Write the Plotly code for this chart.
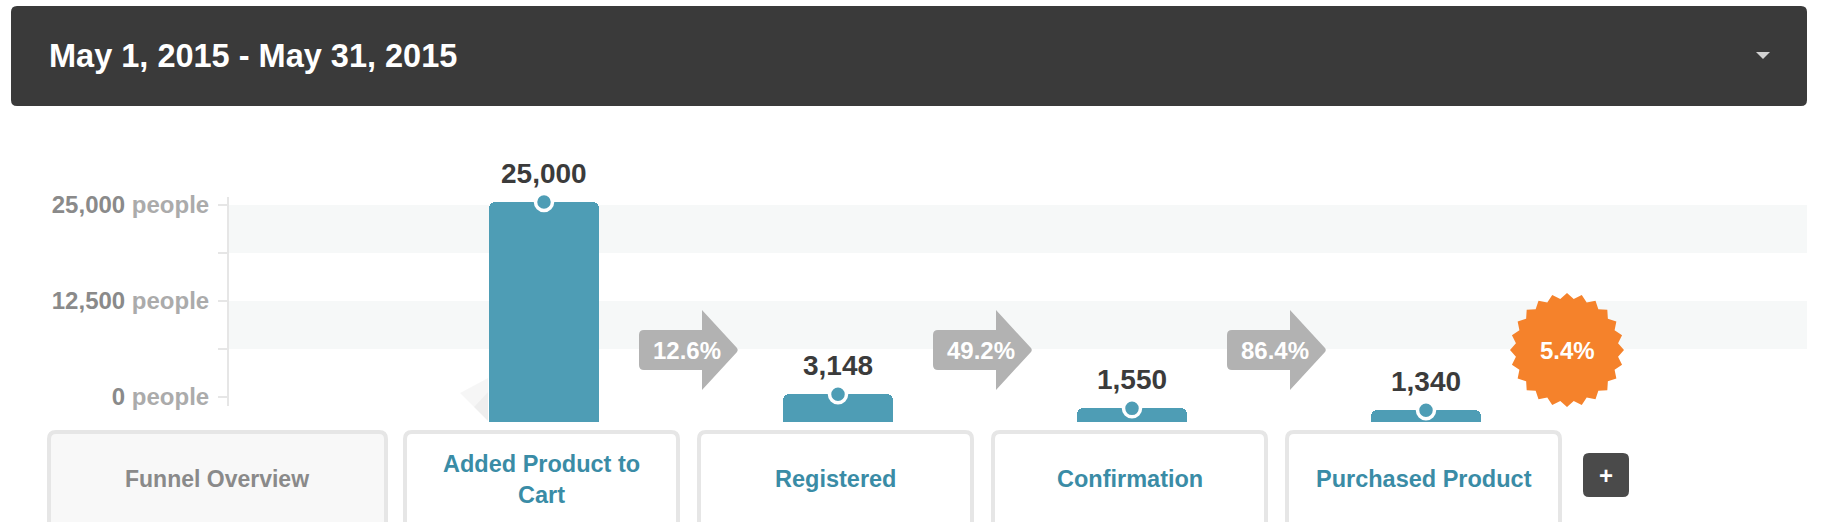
import math
import plotly.graph_objects as go

# ---------------- data ----------------
steps = ["Added Product to Cart", "Registered", "Confirmation", "Purchased Product"]
step_labels = ["Added Product to<br>Cart", "Registered", "Confirmation", "Purchased Product"]
people = [25000, 3148, 1550, 1340]
step_rates = [12.6, 49.2, 86.4]          # conversion between consecutive steps (%)
overall_rate = 5.4                        # overall funnel conversion (%)
axis_ticks = [0, 6250, 12500, 18750, 25000]
axis_tick_numbers = ["0", "", "12,500", "", "25,000"]
band_ranges = [(18750, 25000), (6250, 12500)]
title_text = "May 1, 2015 - May 31, 2015"
overview_label = "Funnel Overview"

# ---------------- style ----------------
W, H = 1832, 522
FONT = "Liberation Sans, Arial, Helvetica, sans-serif"
BAR = "#4e9db5"
TEAL_TXT = "#3a8ca6"
DARK = "#3a3a3a"
ARROW = "#b2b2b2"
ORANGE = "#f5822b"


def pxx(x):
    return x / W


def pyy(y):
    return 1 - y / H


def rrect(x0, y0, x1, y1, r, fx, fy):
    return (
        f"M {fx(x0 + r)},{fy(y0)} L {fx(x1 - r)},{fy(y0)} "
        f"Q {fx(x1)},{fy(y0)} {fx(x1)},{fy(y0 + r)} "
        f"L {fx(x1)},{fy(y1 - r)} Q {fx(x1)},{fy(y1)} {fx(x1 - r)},{fy(y1)} "
        f"L {fx(x0 + r)},{fy(y1)} Q {fx(x0)},{fy(y1)} {fx(x0)},{fy(y1 - r)} "
        f"L {fx(x0)},{fy(y0 + r)} Q {fx(x0)},{fy(y0)} {fx(x0 + r)},{fy(y0)} Z"
    )


def ident(v):
    return v


fig = go.Figure()

# bars (main data)
fig.add_trace(go.Bar(
    x=steps, y=people, xaxis="x", yaxis="y2",
    width=0.374, marker=dict(color=BAR, cornerradius=6, line=dict(width=0)),
    hoverinfo="skip", showlegend=False,
))
# dots on bar tops
fig.add_trace(go.Scatter(
    x=steps, y=people, xaxis="x", yaxis="y2", mode="markers",
    marker=dict(size=17, color=BAR, line=dict(color="white", width=3.5)),
    cliponaxis=False, hoverinfo="skip", showlegend=False,
))
# dummy trace to hold the labelled people axis
fig.add_trace(go.Scatter(x=[None], y=[None], xaxis="x", yaxis="y",
                         hoverinfo="skip", showlegend=False))

shapes = []
annotations = []

# header bar
shapes.append(dict(type="path", xref="paper", yref="paper",
                   path=rrect(11, 6, 1807, 106, 6, pxx, pyy),
                   fillcolor=DARK, line=dict(width=0), layer="below"))
shapes.append(dict(type="path", xref="paper", yref="paper",
                   path=f"M {pxx(1756)},{pyy(52)} L {pxx(1770)},{pyy(52)} L {pxx(1763)},{pyy(59)} Z",
                   fillcolor="#d2d2d2", line=dict(width=0)))
annotations.append(dict(text=f"<b>{title_text}</b>", xref="paper", yref="paper",
                        x=pxx(47), y=pyy(56), xanchor="left", yanchor="middle",
                        showarrow=False, font=dict(family=FONT, size=32.5, color="white")))

# alternating bands
for lo, hi in band_ranges:
    shapes.append(dict(type="rect", xref="paper", yref="y", x0=pxx(229), x1=pxx(1807),
                       y0=lo, y1=hi, fillcolor="#f6f8f8", line=dict(width=0), layer="below"))

# fold shadow left of first bar
shapes.append(dict(type="path", xref="x", yref="paper", xsizemode="pixel", xanchor=steps[0],
                   path=f"M -56,{pyy(378)} L -56,{pyy(421)} L -84,{pyy(393)} Z",
                   fillcolor="rgba(0,0,0,0.035)", line=dict(width=0), layer="below"))
shapes.append(dict(type="path", xref="x", yref="paper", xsizemode="pixel", xanchor=steps[0],
                   path=f"M -56,{pyy(392)} L -56,{pyy(421)} L -70,{pyy(407)} Z",
                   fillcolor="rgba(0,0,0,0.03)", line=dict(width=0), layer="below"))

# value labels above each bar
for s, v in zip(steps, people):
    annotations.append(dict(text=f"<b>{v:,}</b>", x=s, y=v, xref="x", yref="y2",
                            yshift=29, showarrow=False, xanchor="center", yanchor="middle",
                            font=dict(family=FONT, size=28, color="#3b3b3b")))

# conversion arrows between steps
ARROW_Y = pyy(350)
arrow_path = ("M -47,20 L 11,20 L 11,40 L 46,2 Q 47.5,0 46,-2 L 11,-40 L 11,-20 "
              "L -47,-20 Q -52,-20 -52,-15 L -52,15 Q -52,20 -47,20 Z")
for i, r in enumerate(step_rates):
    shapes.append(dict(type="path", xref="x", yref="paper", xsizemode="pixel", ysizemode="pixel",
                       xanchor=i + 0.5, yanchor=ARROW_Y, path=arrow_path,
                       fillcolor=ARROW, line=dict(width=0)))
    annotations.append(dict(text=f"<b>{r:.1f}%</b>", x=i + 0.5, y=ARROW_Y, xref="x", yref="paper",
                            xshift=-4, showarrow=False, xanchor="center", yanchor="middle",
                            font=dict(family=FONT, size=24, color="white")))

# overall conversion badge
n_pts = 24
pts = []
for k in range(2 * n_pts):
    ang = math.pi * k / n_pts
    rad = 57 if k % 2 == 0 else 51.5
    pts.append((-6 + rad * math.sin(ang), rad * math.cos(ang)))
star = "M " + " L ".join(f"{x:.2f},{y:.2f}" for x, y in pts) + " Z"
badge_x = len(steps) - 0.5
shapes.append(dict(type="path", xref="x", yref="paper", xsizemode="pixel", ysizemode="pixel",
                   xanchor=badge_x, yanchor=ARROW_Y, path=star,
                   fillcolor=ORANGE, line=dict(width=0)))
annotations.append(dict(text=f"<b>{overall_rate:.1f}%</b>", x=badge_x, y=ARROW_Y, xref="x",
                        yref="paper", xshift=-6, showarrow=False, xanchor="center", yanchor="middle",
                        font=dict(family=FONT, size=24, color="white")))

# bottom step boxes
LABEL_Y = pyy(479)
shapes.append(dict(type="path", xref="paper", yref="paper",
                   path=rrect(49, 432, 386, 560, 7, pxx, pyy),
                   fillcolor="#f8f8f8", line=dict(color="#e6e6e6", width=4)))
annotations.append(dict(text=f"<b>{overview_label}</b>", xref="paper", yref="paper",
                        x=pxx(217), y=LABEL_Y, showarrow=False, xanchor="center", yanchor="middle",
                        font=dict(family=FONT, size=23, color="#8a8a8a")))

for s, lab in zip(steps, step_labels):
    shapes.append(dict(type="path", xref="x", yref="paper", xsizemode="pixel", xanchor=s,
                       path=(f"M -132,{pyy(432)} L 127,{pyy(432)} Q 134,{pyy(432)} 134,{pyy(439)} "
                             f"L 134,{pyy(560)} L -139,{pyy(560)} L -139,{pyy(439)} "
                             f"Q -139,{pyy(432)} -132,{pyy(432)} Z"),
                       fillcolor="white", line=dict(color="#e6e6e6", width=4)))
    annotations.append(dict(text=f"<b>{lab}</b>", x=s, y=LABEL_Y, xref="x", yref="paper",
                            xshift=-2.5, showarrow=False, xanchor="center", yanchor="middle",
                            font=dict(family=FONT, size=23.5, color=TEAL_TXT)))

# add-step button
shapes.append(dict(type="path", xref="paper", yref="paper",
                   path=rrect(1583, 453, 1629, 497, 6, pxx, pyy),
                   fillcolor="#4a4a4a", line=dict(width=0)))
annotations.append(dict(text="<b>+</b>", xref="paper", yref="paper", x=pxx(1606), y=pyy(475),
                        showarrow=False, xanchor="center", yanchor="middle",
                        font=dict(family=FONT, size=24, color="white")))

# axis tick texts
tick_text = [f"{n} <span style='color:#ababab'>people</span>" if n else "" for n in axis_tick_numbers]

# axis scales
x_range = [-544 / 294, (W - 544) / 294]
bar_scale = 220 / 25000               # px per person on bar axis
bar_range = [-(H - 422) / bar_scale, 422 / bar_scale]
lab_scale = 192 / 25000
lab_dom = [(H - 406) / H, (H - 197) / H]
lab_range = [-9 / lab_scale, (406 - 197 - 9) / lab_scale]

fig.update_layout(
    width=W, height=H, autosize=False,
    margin=dict(l=0, r=0, t=0, b=0, pad=0, autoexpand=False),
    paper_bgcolor="white", plot_bgcolor="rgba(0,0,0,0)",
    font=dict(family=FONT),
    showlegend=False, hovermode=False,
    bargap=0,
    xaxis=dict(domain=[0, 1], range=x_range, type="category",
               categoryorder="array", categoryarray=steps, automargin=False,
               visible=False, showgrid=False, zeroline=False, fixedrange=True),
    yaxis2=dict(domain=[0, 1], range=bar_range, anchor="x", automargin=False,
                visible=False, showgrid=False, zeroline=False, fixedrange=True),
    yaxis=dict(domain=lab_dom, range=lab_range, anchor="free", position=228 / W,
               side="left", showline=True, linecolor="#e6e6e6", linewidth=2, automargin=False,
               ticks="outside", ticklen=9, tickwidth=2, tickcolor="#e6e6e6",
               tickvals=axis_ticks, ticktext=tick_text, ticklabelstandoff=4,
               tickfont=dict(family=FONT, size=24, color="#8a8a8a", weight="bold"),
               showgrid=False, zeroline=False, fixedrange=True),
    shapes=shapes,
    annotations=annotations,
)

fig.write_html("out.html", post_script="document.body.style.margin='0';",
               config={"displayModeBar": False})
